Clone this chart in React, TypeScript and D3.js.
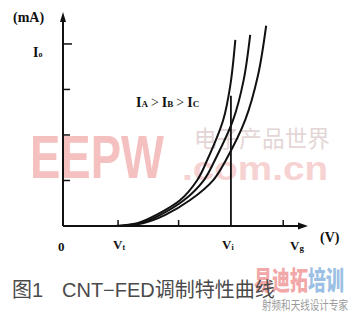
import React from "react";
import * as d3 from "d3";

// Axis tick values (arbitrary units)
const yTicks = [1, 2, 3, 4];
const xTicks = [1, 2.1, 4];
const vi = 3.05;
const viTop = 2.86;

// Curves A, B, C: [gate voltage, current]
const curveA: [number, number][] = [
  [0.95, 0], [1.35, 0.06], [1.69, 0.24], [2.13, 0.57], [2.44, 1.01],
  [2.62, 1.45], [2.91, 2.33], [3.04, 3.1], [3.13, 4.09],
];
const curveB: [number, number][] = [
  [1.0, 0], [1.4, 0.06], [1.76, 0.24], [2.2, 0.57], [2.56, 1.01],
  [2.76, 1.45], [3.09, 2.33], [3.28, 3.2], [3.4, 4.2],
];
const curveC: [number, number][] = [
  [1.05, 0], [1.45, 0.06], [1.85, 0.24], [2.31, 0.57], [2.73, 1.01],
  [2.96, 1.45], [3.31, 2.33], [3.54, 3.3], [3.69, 4.4],
];
const curves = [curveA, curveB, curveC];

export default function App() {
  const W = 351, H = 315;
  const x = d3.scaleLinear().domain([0, 4.45]).range([63, 308]);
  const y = d3.scaleLinear().domain([0, 4.68]).range([226, 13]);
  const line = d3
    .line<[number, number]>()
    .x((d) => x(d[0]))
    .y((d) => y(d[1]))
    .curve(d3.curveCatmullRom.alpha(0.5));
  const serif = "'Liberation Serif', 'Times New Roman', serif";
  const x0 = x(0), y0 = y(0);
  return (
    <svg width={W} height={H} style={{ position: "absolute", left: 0, top: 0, background: "#fff" }}>
      {/* watermarks */}
      <text x={30} y={178} fontFamily="'Liberation Sans', Arial, sans-serif" fontWeight="bold" fontSize={62}
        fill="#f4c0c0" textLength={134} lengthAdjust="spacingAndGlyphs">EEPW</text>
      <text x={182} y={180} fontFamily="'Liberation Sans', Arial, sans-serif" fontWeight="bold" fontSize={34}
        fill="#f6d2d2" textLength={146} lengthAdjust="spacingAndGlyphs">.com.cn</text>
      <text x={194} y={147} fontFamily="'Noto Sans CJK SC', sans-serif" fontSize={23}
        fill="#e4d6d6" textLength={136} lengthAdjust="spacingAndGlyphs">电子产品世界</text>
      <text x={254} y={290} fontFamily="'Noto Sans CJK SC', sans-serif" fontWeight="900" fontSize={26}
        textLength={90} lengthAdjust="spacingAndGlyphs">
        <tspan fill="#f2a8a8">易迪拓</tspan><tspan fill="#9cbfe4">培训</tspan>
      </text>
      <text x={262} y={310} fontFamily="'Noto Sans CJK SC', sans-serif" fontSize={12}
        fill="#9a9a9a" textLength={86} lengthAdjust="spacingAndGlyphs">射频和天线设计专家</text>

      {/* axes */}
      <line x1={x0} y1={y0} x2={x0} y2={20} stroke="#111" strokeWidth={2} />
      <path d={`M${x0},12 L${x0 - 3},22 L${x0 + 3},22 Z`} fill="#111" />
      <line x1={x0} y1={y0} x2={300} y2={y0} stroke="#111" strokeWidth={2} />
      <path d={`M308,${y0} L298,${y0 - 3.5} L298,${y0 + 3.5} Z`} fill="#111" />
      {yTicks.map((t) => (
        <line key={t} x1={x0} x2={x0 + (t === 4 ? 9 : 7)} y1={y(t)} y2={y(t)} stroke="#111" strokeWidth={1.5} />
      ))}
      {xTicks.map((t) => (
        <line key={t} x1={x(t)} x2={x(t)} y1={y0} y2={y0 - 6} stroke="#111" strokeWidth={1.5} />
      ))}
      <line x1={x(vi)} x2={x(vi)} y1={y0} y2={y(viTop)} stroke="#111" strokeWidth={1.8} />

      {/* curves */}
      {curves.map((c, i) => (
        <path key={i} d={line(c) || ""} fill="none" stroke="#111" strokeWidth={2} />
      ))}

      {/* labels */}
      <g fontFamily={serif} fontWeight="bold" fill="#111">
        <text x={13} y={22} fontSize={14}>(mA)</text>
        <text x={33} y={57} fontSize={14}>I<tspan fontSize={8}>o</tspan></text>
        <text x={136} y={107} fontSize={14}>
          I<tspan fontSize={9}>A</tspan><tspan fontWeight="normal" dx={3}>&gt;</tspan><tspan dx={3}>I</tspan><tspan fontSize={9}>B</tspan><tspan fontWeight="normal" dx={3}>&gt;</tspan><tspan dx={3}>I</tspan><tspan fontSize={9}>C</tspan>
        </text>
        <text x={58} y={251} fontSize={13}>0</text>
        <text x={113} y={249} fontSize={13}>V<tspan fontSize={8} dy={1}>t</tspan></text>
        <text x={222} y={249} fontSize={13}>V<tspan fontSize={8} dy={1}>i</tspan></text>
        <text x={290} y={250} fontSize={13}>V<tspan fontSize={9} dy={1}>g</tspan></text>
        <text x={320} y={242} fontSize={14}>(V)</text>
      </g>

      {/* caption */}
      <g fontFamily="'Liberation Sans', Arial, 'Noto Sans CJK SC', sans-serif" fontSize={20} fill="#4a4a4a">
        <text x={12} y={297}>图1</text>
        <text x={62} y={297}>CNT−FED调制特性曲线</text>
      </g>
    </svg>
  );
}
